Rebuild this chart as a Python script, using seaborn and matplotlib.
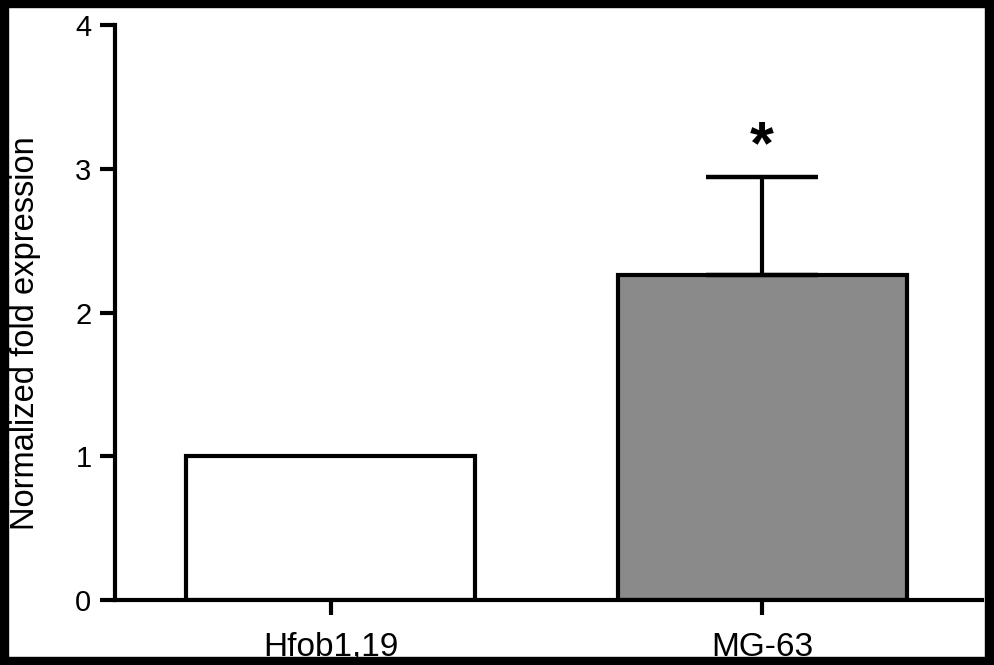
import numpy as np
import pandas as pd
import matplotlib
matplotlib.use("Agg")
import matplotlib.pyplot as plt
import seaborn as sns
from matplotlib.patches import Rectangle

# data
cell_lines = ["Hfob1,19", "MG-63"]
fold_expr = [1.0, 2.26]
err_upper = [0.0, 0.68]
bar_colors = ["#ffffff", "#8a8a8a"]
y_ticks = [0, 1, 2, 3, 4]
star_y = 3.15

sns.set_theme(style="ticks")
plt.rcParams["font.family"] = ["Liberation Sans", "DejaVu Sans"]
plt.rcParams["text.color"] = "black"
plt.rcParams["axes.labelcolor"] = "black"
plt.rcParams["xtick.labelcolor"] = "black"
plt.rcParams["ytick.labelcolor"] = "black"

df = pd.DataFrame({"line": cell_lines, "fold": fold_expr})

fig = plt.figure(figsize=(9.94, 6.65), dpi=100)
ax = fig.add_axes([0.1157, 0.0977, 0.8723, 0.8647])

sns.barplot(data=df, x="line", y="fold", hue="line", palette=bar_colors,
            errorbar=None, width=0.67, edgecolor="black", linewidth=3,
            legend=False, ax=ax)

# upper-only error bar
ax.errorbar([1], [fold_expr[1]], yerr=[[0], [err_upper[1]]], fmt="none",
            ecolor="black", elinewidth=3, capsize=40, capthick=3.2, zorder=1)

ax.text(1, star_y, "*", ha="center", va="center", fontsize=44,
        fontweight="bold", color="black")

ax.set_xlim(-0.5, 1.51)
ax.set_ylim(0, 4)
ax.set_yticks(y_ticks)
ax.set_xlabel("")
ax.set_ylabel("Normalized fold expression", fontsize=23.5)
ax.yaxis.set_label_coords(-0.085, 0.464)

sns.despine(ax=ax)
for s in ["left", "bottom"]:
    ax.spines[s].set_linewidth(3)
    ax.spines[s].set_color("black")
ax.tick_params(axis="both", width=3, length=11, color="black")
ax.tick_params(axis="y", labelsize=21, pad=6)
ax.tick_params(axis="x", labelsize=24, pad=12)

# black frame round the picture
frame_kw = dict(transform=fig.transFigure, color="black", zorder=10)
fig.add_artist(Rectangle((0, 0), 1, 8 / 665, **frame_kw))
fig.add_artist(Rectangle((0, 1 - 7 / 665), 1, 7 / 665, **frame_kw))
fig.add_artist(Rectangle((0, 0), 8 / 994, 1, **frame_kw))
fig.add_artist(Rectangle((1 - 9 / 994, 0), 9 / 994, 1, **frame_kw))

fig.savefig("out.png", dpi=100)
